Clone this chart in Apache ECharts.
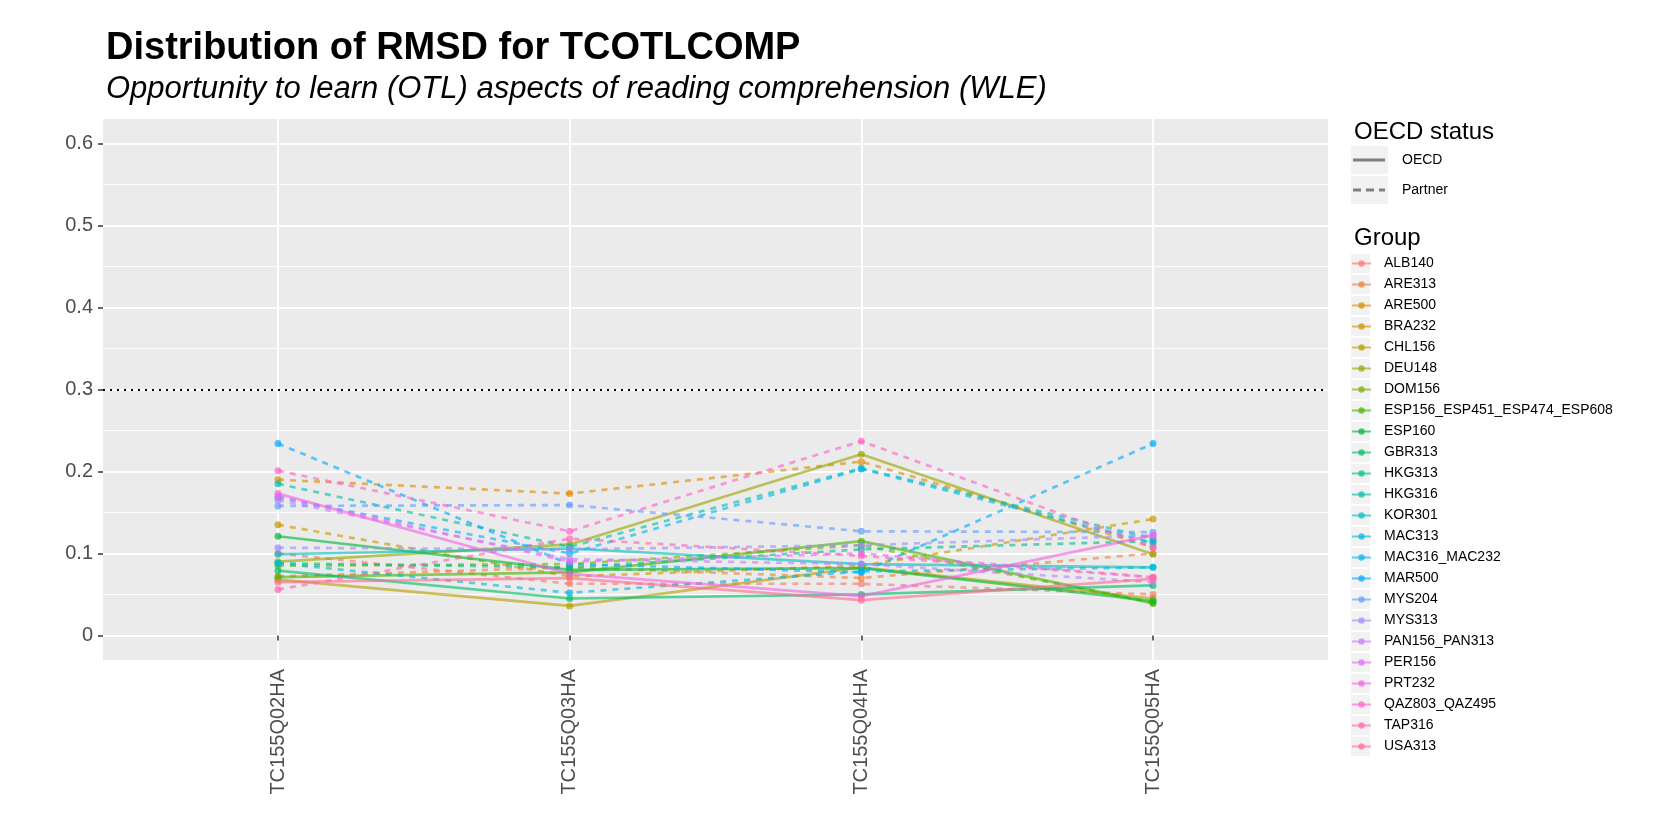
<!DOCTYPE html>
<html>
<head>
<meta charset="utf-8">
<script src="https://cdn.jsdelivr.net/npm/echarts@6/dist/echarts.min.js"></script>
<style>
  html, body { margin: 0; padding: 0; background: #fff; }
  #main { width: 1653px; height: 826px; }
</style>
</head>
<body>
<div id="main"></div>
<script>
// items on the x axis
const categories = ['TC155Q02HA', 'TC155Q03HA', 'TC155Q04HA', 'TC155Q05HA']

const groups = ['ALB140', 'ARE313', 'ARE500', 'BRA232', 'CHL156', 'DEU148', 'DOM156',
  'ESP156_ESP451_ESP474_ESP608', 'ESP160', 'GBR313', 'HKG313', 'HKG316', 'KOR301',
  'MAC313', 'MAC316_MAC232', 'MAR500', 'MYS204', 'MYS313', 'PAN156_PAN313', 'PER156',
  'PRT232', 'QAZ803_QAZ495', 'TAP316', 'USA313']

const oecdStatus = ['Partner', 'Partner', 'Partner', 'Partner', 'OECD', 'OECD', 'Partner',
  'OECD', 'OECD', 'OECD', 'Partner', 'Partner', 'OECD',
  'Partner', 'Partner', 'Partner', 'Partner', 'Partner', 'Partner', 'Partner',
  'OECD', 'Partner', 'Partner', 'OECD']

// RMSD per item, one value per group (same order as groups)
const rmsdQ02 = [0.100, 0.072, 0.190, 0.135, 0.068, 0.090, 0.085, 0.071, 0.121, 0.079, 0.088, 0.185,
  0.099, 0.088, 0.168, 0.234, 0.158, 0.107, 0.165, 0.170, 0.173, 0.201, 0.056, 0.065]
const rmsdQ03 = [0.063, 0.083, 0.173, 0.072, 0.036, 0.111, 0.087, 0.077, 0.080, 0.045, 0.083, 0.108,
  0.106, 0.052, 0.100, 0.087, 0.159, 0.105, 0.093, 0.090, 0.075, 0.127, 0.118, 0.070]
const rmsdQ04 = [0.063, 0.070, 0.212, 0.085, 0.083, 0.221, 0.110, 0.115, 0.082, 0.050, 0.105, 0.204,
  0.087, 0.078, 0.203, 0.077, 0.127, 0.110, 0.087, 0.100, 0.048, 0.237, 0.097, 0.043]
const rmsdQ05 = [0.050, 0.100, 0.108, 0.142, 0.045, 0.099, 0.040, 0.039, 0.042, 0.061, 0.115, 0.118,
  0.083, 0.083, 0.113, 0.234, 0.126, 0.122, 0.065, 0.071, 0.122, 0.107, 0.071, 0.069]

const yMajor = [0, 0.1, 0.2, 0.3, 0.4, 0.5, 0.6]
const yMinor = [0.05, 0.15, 0.25, 0.35, 0.45, 0.55]
const cutoff = 0.3

// ggplot default hue palette (hcl, c=100, l=65)
function hcl(h, c, l) {
  const hr = h * Math.PI / 180
  const U = c * Math.cos(hr), V = c * Math.sin(hr)
  const Xn = 95.047, Yn = 100, Zn = 108.883
  const Y = l > 8 ? Yn * Math.pow((l + 16) / 116, 3) : Yn * l / 903.3
  const t = Xn + 15 * Yn + 3 * Zn
  const u = U / (13 * l) + 4 * Xn / t
  const v = V / (13 * l) + 9 * Yn / t
  const X = 9 * Y * u / (4 * v)
  const Z = -X / 3 - 5 * Y + 3 * Y / v
  const lin = [
    (3.240479 * X - 1.537150 * Y - 0.498535 * Z) / 100,
    (-0.969256 * X + 1.875992 * Y + 0.041556 * Z) / 100,
    (0.055648 * X - 0.204043 * Y + 1.057311 * Z) / 100
  ]
  return '#' + lin.map(x => {
    let g = x <= 0.0031308 ? 12.92 * x : 1.055 * Math.pow(x, 1 / 2.4) - 0.055
    g = Math.max(0, Math.min(1, g))
    return Math.round(g * 255).toString(16).padStart(2, '0')
  }).join('')
}
const colors = groups.map((g, i) => hcl(15 * (i + 1), 100, 65))

const byItem = [rmsdQ02, rmsdQ03, rmsdQ04, rmsdQ05]

let series = groups.map((name, gi) => ({
  name,
  type: 'line',
  data: categories.map((c, ci) => [ci + 1, byItem[ci][gi]]),
  color: colors[gi],
  symbol: 'circle',
  symbolSize: 7,
  lineStyle: { width: 2.7, opacity: 0.62, type: oecdStatus[gi] === 'OECD' ? 'solid' : [6, 6] },
  itemStyle: { opacity: 0.7 },
  emphasis: { disabled: true },
  z: 3
}))

// dotted reference line
series[0].markLine = {
  silent: true,
  symbol: 'none',
  label: { show: false },
  lineStyle: { color: '#000', type: [2, 5], width: 2, opacity: 1 },
  data: [{ yAxis: cutoff }]
}

// dummy series for the line type legend
series.push({ name: 'OECD', type: 'line', data: [], color: '#7F7F7F', symbol: 'none' })
series.push({ name: 'Partner', type: 'line', data: [], color: '#7F7F7F', symbol: 'none' })

const solidIcon = 'path://M0,0h0.01v0.01h-0.01Z M2,12.6h32v2.8h-32Z M36.99,27.99h0.01v0.01h-0.01Z'
const dashIcon = 'path://M0,0h0.01v0.01h-0.01Z M2,12.6h8v2.8h-8Z M15,12.6h8v2.8h-8Z M28,12.6h6v2.8h-6Z M36.99,27.99h0.01v0.01h-0.01Z'

const keyBoxes = [
  { type: 'rect', left: 1351, top: 146, shape: { width: 37, height: 28 }, style: { fill: '#F2F2F2' } },
  { type: 'rect', left: 1351, top: 176, shape: { width: 37, height: 28 }, style: { fill: '#F2F2F2' } }
].concat(groups.map((g, i) => ({
  type: 'rect', left: 1351, top: 254 + 21 * i, shape: { width: 19, height: 19 }, style: { fill: '#F2F2F2' }
})))

const font = 'Liberation Sans, Arial, sans-serif'

var myChart = echarts.init(document.getElementById('main'))
var option = {
  animation: false,
  backgroundColor: '#fff',
  textStyle: { fontFamily: font },
  title: [
    { text: 'Distribution of RMSD for TCOTLCOMP', left: 101, top: 25,
      textStyle: { fontSize: 38, fontWeight: 'bold', color: '#000', fontFamily: font } },
    { text: 'Opportunity to learn (OTL) aspects of reading comprehension (WLE)', left: 101, top: 69,
      textStyle: { fontSize: 31, fontStyle: 'italic', fontWeight: 'normal', color: '#000', fontFamily: font } },
    { text: 'OECD status', left: 1349, top: 115,
      textStyle: { fontSize: 24, fontWeight: 'normal', color: '#000', fontFamily: font } },
    { text: 'Group', left: 1349, top: 221,
      textStyle: { fontSize: 24, fontWeight: 'normal', color: '#000', fontFamily: font } }
  ],
  graphic: keyBoxes,
  legend: [
    {
      data: [{ name: 'OECD', icon: solidIcon }, { name: 'Partner', icon: dashIcon }],
      orient: 'vertical', left: 1351, top: 146, padding: 0,
      itemWidth: 37, itemHeight: 28, itemGap: 2, selectedMode: false,
      textStyle: { fontSize: 14, color: '#000', padding: [0, 0, 0, 9], fontFamily: font }
    },
    {
      data: groups,
      orient: 'vertical', left: 1351, top: 254, padding: 0,
      itemWidth: 19, itemHeight: 8, itemGap: 2, selectedMode: false,
      lineStyle: { type: 'solid' },
      textStyle: { fontSize: 14, lineHeight: 19, color: '#000', padding: [0, 0, 0, 8], fontFamily: font }
    }
  ],
  grid: {
    left: 103, right: 325, top: 119, bottom: 166,
    show: true, backgroundColor: '#EBEBEB', borderWidth: 0
  },
  xAxis: {
    type: 'value', min: 0.4, max: 4.6,
    axisLine: { show: false },
    axisTick: { show: true, length: 5, lineStyle: { color: '#333', width: 1.5 }, customValues: [1, 2, 3, 4] },
    axisLabel: {
      customValues: [1, 2, 3, 4], rotate: 90, margin: 9,
      formatter: v => categories[Math.round(v) - 1],
      fontSize: 20, color: '#4D4D4D', fontFamily: font
    },
    splitLine: { show: true, lineStyle: { color: '#fff', width: 2 } }
  },
  yAxis: [
    {
      type: 'value', min: -0.03, max: 0.63,
      axisLine: { show: false },
      axisTick: { show: true, length: 5, lineStyle: { color: '#333', width: 1.5 }, customValues: yMajor },
      axisLabel: {
        customValues: yMajor, margin: 10,
        formatter: v => String(Math.round(v * 10) / 10),
        fontSize: 20, color: '#4D4D4D', fontFamily: font
      },
      splitLine: { show: true, lineStyle: { color: '#fff', width: 2 } }
    },
    {
      type: 'value', min: -0.03, max: 0.63, position: 'left',
      axisLine: { show: false },
      axisTick: { show: false, customValues: yMinor },
      axisLabel: { show: false, customValues: yMinor },
      splitLine: { show: true, lineStyle: { color: '#fff', width: 1 } }
    }
  ],
  series
}
myChart.setOption(option)
</script>
</body>
</html>
